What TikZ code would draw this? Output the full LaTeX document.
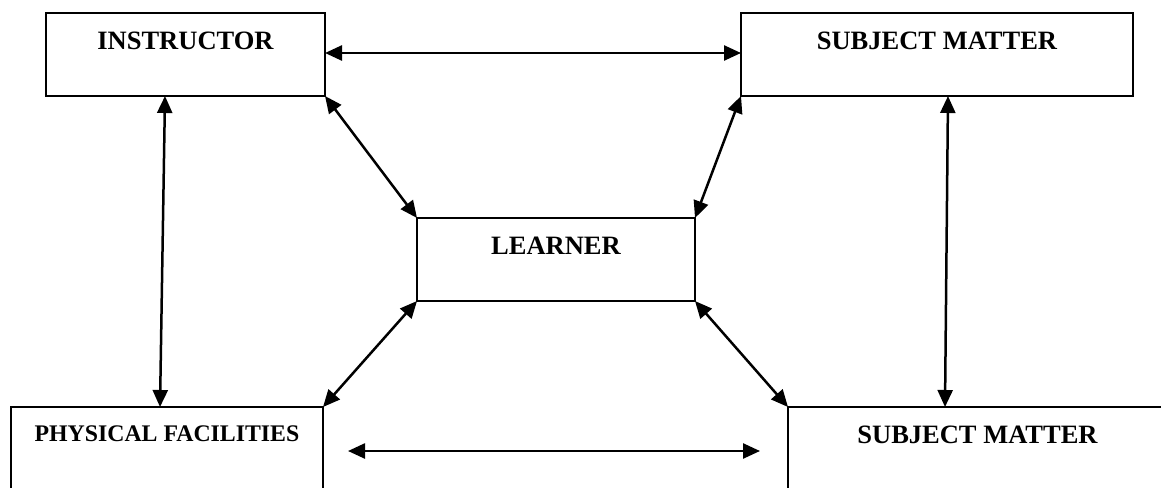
\documentclass[tikz,border=0pt]{standalone}
\usepackage{fontspec}
\setmainfont{Liberation Serif}
\usetikzlibrary{arrows.meta,calc}
\tikzset{
  box/.style={draw, line width=2.4pt, rectangle, inner xsep=0pt, inner ysep=0pt,
    outer sep=0pt, anchor=north west, align=center,
    font=\bfseries\fontsize{26.5}{30}\selectfont},
  link/.style={line width=2.5pt, {Triangle[length=17pt,width=15pt]}-{Triangle[length=17pt,width=15pt]}}
}
\begin{document}
\begin{tikzpicture}[x=1pt,y=-1pt]
\clip (0,0) rectangle (1161,487);
\fill[white] (0,0) rectangle (1161,487);
% boxes: text height = top-to-baseline, text depth = baseline-to-bottom
\node[box, minimum width=279pt, text height=36pt, text depth=47pt] (ins) at (46,13) {INSTRUCTOR};
\node[box, minimum width=392pt, text height=36pt, text depth=47pt] (tsm) at (741,13) {SUBJECT MATTER};
\node[box, minimum width=278pt, text height=36pt, text depth=47pt] (lrn) at (417,218) {LEARNER};
\node[box, minimum width=312pt, text height=34pt, text depth=80pt, font=\bfseries\fontsize{23.8}{28}\selectfont] (pf) at (11,407) {PHYSICAL FACILITIES};
\node[box, minimum width=379pt, text height=36pt, text depth=80pt] (bsm) at (788,407) {SUBJECT MATTER};
\coordinate (bl) at (348,451);
\coordinate (br) at (760,451);
% connectors
\draw[link] ([yshift=1.5pt]ins.east) -- ([yshift=1.5pt]tsm.west);
\draw[link] ($(ins.south)+(-20.5,0)$) -- ($(pf.north)+(-7,0)$);
\draw[link] ($(tsm.south)+(11,0)$) -- ($(bsm.north)+(-32.5,0)$);
\draw[link] (ins.south east) -- (lrn.north west);
\draw[link] (tsm.south west) -- (lrn.north east);
\draw[link] (lrn.south west) -- (pf.north east);
\draw[link] (lrn.south east) -- (bsm.north west);
\draw[link] (bl) -- (br);
\end{tikzpicture}
\end{document}
